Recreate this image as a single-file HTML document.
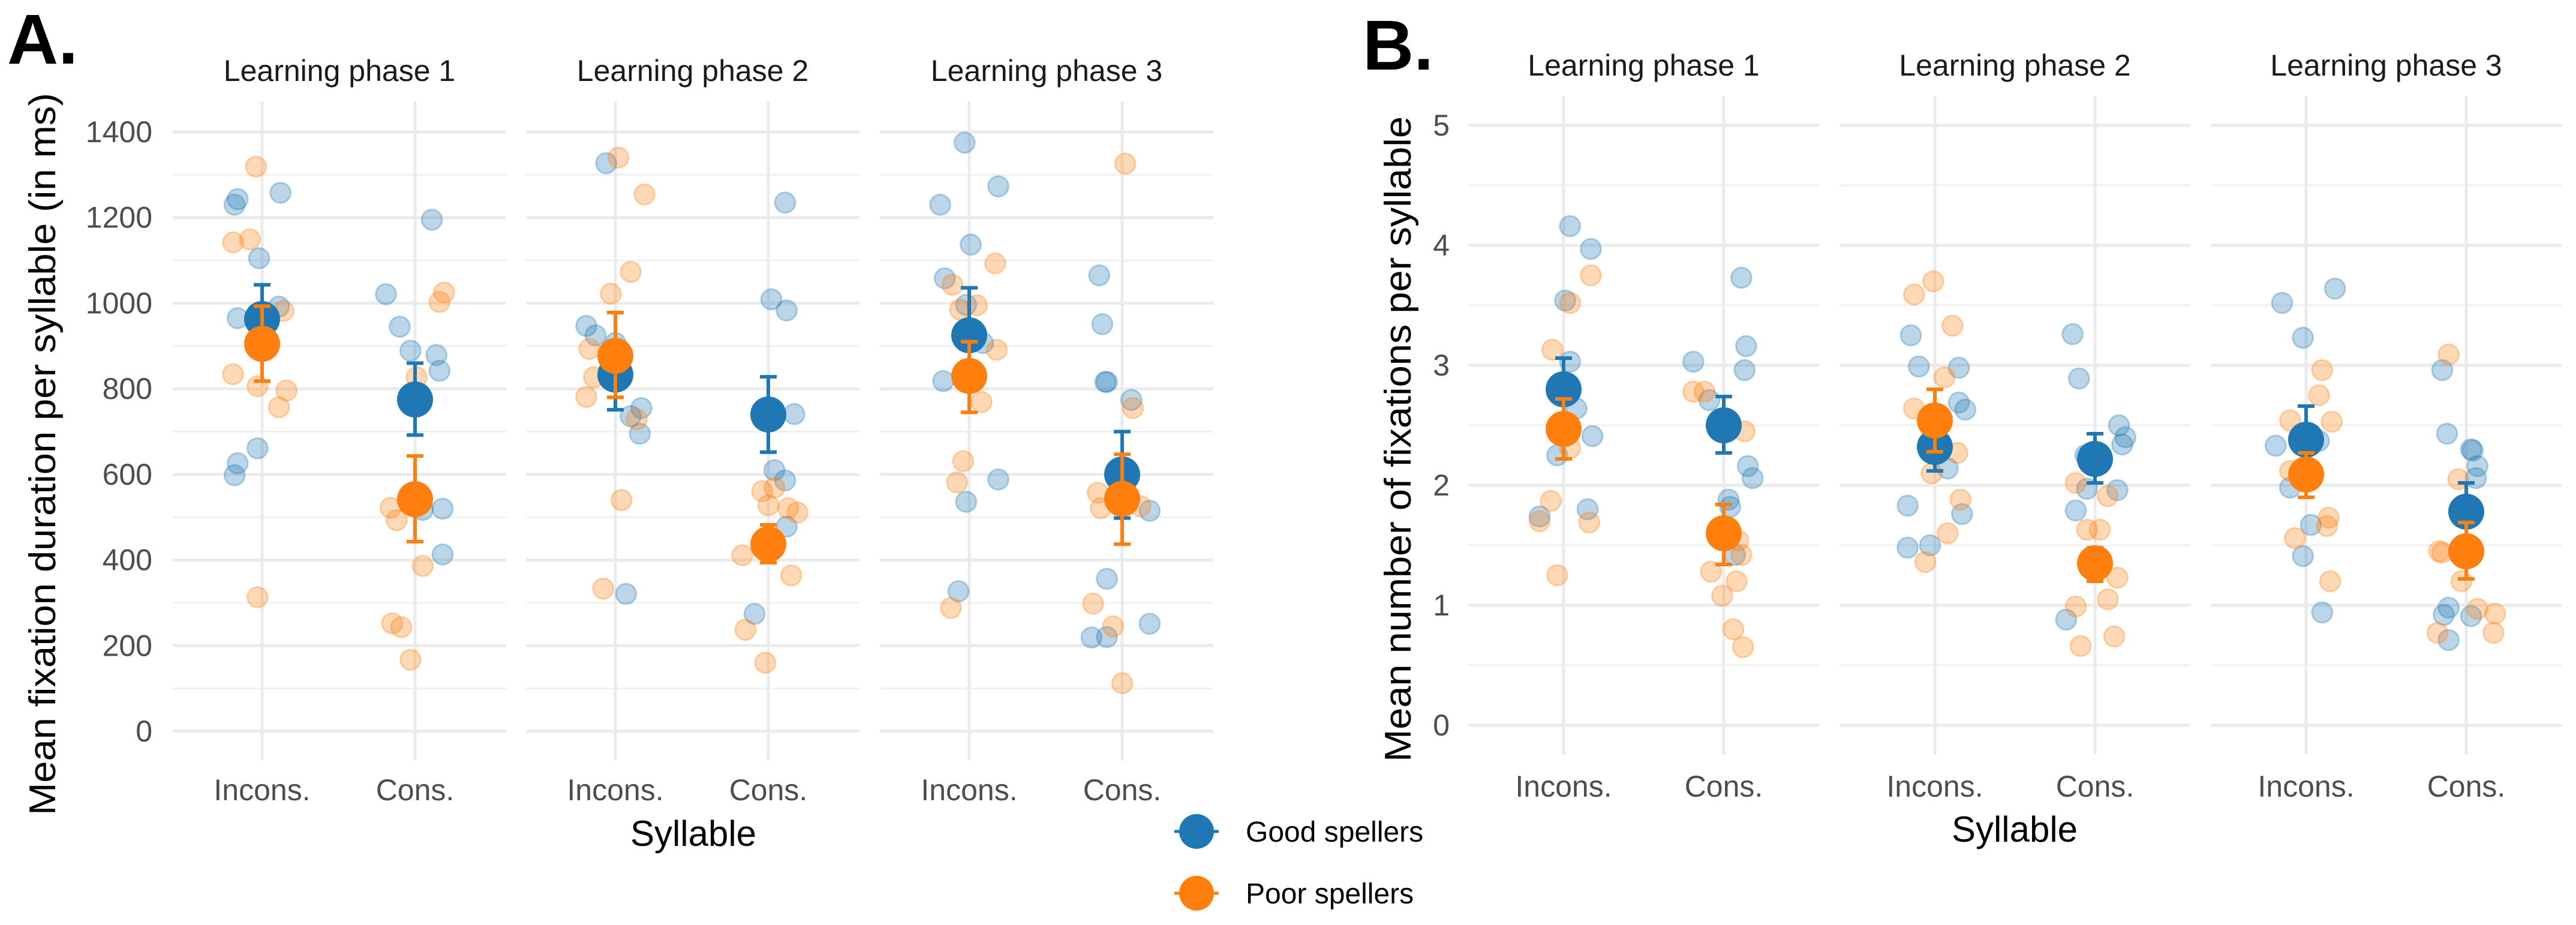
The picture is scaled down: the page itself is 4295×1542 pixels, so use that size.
<!DOCTYPE html>
<html><head><meta charset="utf-8"><style>
html,body{margin:0;padding:0;background:#fff;}
svg{display:block;font-family:"Liberation Sans",sans-serif;}
</style></head><body>
<svg id="chart" width="4295" height="1542" viewBox="0 0 4295 1542" xmlns="http://www.w3.org/2000/svg">
<text x="12" y="106" font-size="118" font-weight="bold">A.</text>
<text x="2272" y="116" font-size="118" font-weight="bold">B.</text>
<text transform="translate(92,757) rotate(-90)" text-anchor="middle" font-size="62" textLength="1204" lengthAdjust="spacingAndGlyphs">Mean fixation duration per syllable (in ms)</text>
<text transform="translate(2352,732) rotate(-90)" text-anchor="middle" font-size="62" textLength="1076" lengthAdjust="spacingAndGlyphs">Mean number of fixations per syllable</text>
<text x="1156" y="1410" text-anchor="middle" font-size="60">Syllable</text>
<text x="3359" y="1403" text-anchor="middle" font-size="60">Syllable</text>
<g>
<line x1="1958" y1="1386" x2="2032" y2="1386" stroke="#1f77b4" stroke-width="5"/>
<circle cx="1995" cy="1386" r="29" fill="#1f77b4"/>
<text x="2077" y="1403" font-size="48">Good spellers</text>
<line x1="1958" y1="1489" x2="2032" y2="1489" stroke="#ff7f0e" stroke-width="5"/>
<circle cx="1995" cy="1489" r="29" fill="#ff7f0e"/>
<text x="2077" y="1506" font-size="48">Poor spellers</text>
</g>
</svg>
<script>
// ---------- DATA ----------
const phases = ["Learning phase 1","Learning phase 2","Learning phase 3"];
const categories = ["Incons.","Cons."];
const ticksA = [0,200,400,600,800,1000,1200,1400];
const ticksB = [0,1,2,3,4,5];
// Panel A individual points: [phase][category] values and jitter (category units)
const aGoodVals = [
 [[1230,1243,1258,1105,965,992,661,626,598],[1195,1021,945,889,879,842,517,520,413]],
 [[1327,947,925,907,755,736,695,321],[1235,1009,983,741,610,586,478,274]],
 [[1375,1273,1230,1137,1058,996,907,818,588,536,327],[1065,951,816,816,774,515,356,219,220,251]]];
const aGoodJit = [
 [[-.18,-.16,.12,-.02,-.16,.11,-.03,-.16,-.18],[.11,-.19,-.10,-.03,.14,.16,.05,.18,.18]],
 [[-.06,-.19,-.13,0,.17,.10,.16,.07],[.11,.02,.12,.17,.04,.11,.12,-.09]],
 [[-.03,.19,-.19,.01,-.16,-.02,.09,-.17,.19,-.02,-.07],[-.15,-.13,-.11,-.10,.06,.18,-.10,-.20,-.10,.18]]];
const aPoorVals = [
 [[1319,1142,1149,982,834,806,796,757,313],[1025,1003,827,522,493,386,252,243,167]],
 [[1340,1254,1073,1022,893,827,781,729,540,333],[561,528,569,521,511,411,364,237,160]],
 [[1093,1043,985,995,891,769,631,581,288],[1326,755,557,521,526,298,245,112]]];
const aPoorJit = [
 [[-.04,-.19,-.08,.14,-.19,-.03,.16,.11,-.03],[.19,.16,.01,-.16,-.12,.05,-.15,-.09,-.03]],
 [[.02,.19,.10,-.03,-.17,-.14,-.19,.14,.04,-.08],[-.04,0,.04,.13,.19,-.17,.15,-.15,-.02]],
 [[.17,-.11,-.06,.05,.18,.08,-.04,-.08,-.12],[.02,.07,-.16,-.14,.12,-.19,-.06,0]]];
const aGoodMean = [[963,775],[833,740],[925,600]];
const aGoodLo = [[882,692],[751,652],[816,498]];
const aGoodHi = [[1043,860],[910,828],[1036,700]];
const aPoorMean = [[905,542],[877,437],[830,543]];
const aPoorLo = [[818,443],[780,394],[745,437]];
const aPoorHi = [[993,643],[978,482],[910,647]];
// Panel B
const bGoodVals = [
 [[4.16,3.97,3.54,3.03,2.64,2.41,2.25,1.74,1.80],[3.73,3.16,2.96,3.03,2.71,2.16,2.06,1.88,1.82,1.42]],
 [[3.25,2.99,2.98,2.69,2.63,2.14,1.83,1.76,1.48,1.50],[3.26,2.89,2.50,2.40,2.34,2.25,1.97,1.96,1.79,0.88]],
 [[3.64,3.52,3.23,2.37,2.33,1.98,1.67,1.41,0.94],[2.96,2.43,2.30,2.29,2.16,2.06,0.98,0.92,0.91,0.71]]];
const bGoodJit = [
 [[.04,.17,.01,.04,.08,.18,-.04,-.15,.15],[.11,.14,.13,-.19,-.09,.15,.18,.03,.04,.07]],
 [[-.15,-.10,.15,.15,.19,.08,-.17,.17,-.17,-.03],[-.14,-.10,.15,.19,.17,-.06,-.05,.14,-.12,-.18]],
 [[.18,-.15,-.02,.08,-.19,-.10,.03,-.02,.10],[-.15,-.12,.03,.04,.07,.06,-.11,-.14,.03,-.11]]];
const bPoorVals = [
 [[3.75,3.52,3.13,2.31,1.87,1.70,1.69,1.25],[2.78,2.78,2.45,1.54,1.42,1.28,1.20,1.08,0.80,0.65]],
 [[3.70,3.59,3.33,2.90,2.64,2.27,2.10,1.88,1.60,1.36],[2.02,1.91,1.63,1.63,1.23,1.05,0.99,0.74,0.66]],
 [[2.96,2.75,2.54,2.53,2.12,1.73,1.66,1.56,1.20],[3.09,2.05,1.45,1.44,1.20,0.97,0.93,0.77,0.77]]];
const bPoorJit = [
 [[.17,.04,-.07,.04,-.08,-.15,.16,-.04],[-.19,-.12,.13,.09,.11,-.08,.08,-.01,.06,.12]],
 [[-.01,-.13,.11,.06,-.13,.14,-.02,.16,.08,-.06],[-.12,.08,-.05,.03,.14,.08,-.12,.12,-.09]],
 [[.10,.08,-.10,.16,-.10,.14,.13,-.07,.15],[-.11,-.05,-.17,-.15,-.03,.07,.18,.17,-.18]]];
const bGoodMean = [[2.80,2.50],[2.32,2.22],[2.38,1.78]];
const bGoodLo = [[2.53,2.27],[2.12,2.02],[2.10,1.53]];
const bGoodHi = [[3.06,2.74],[2.52,2.43],[2.66,2.02]];
const bPoorMean = [[2.47,1.60],[2.54,1.35],[2.09,1.45]];
const bPoorLo = [[2.22,1.34],[2.28,1.20],[1.90,1.22]];
const bPoorHi = [[2.72,1.84],[2.80,1.48],[2.27,1.69]];

// ---------- DRAW ----------
const NS = "http://www.w3.org/2000/svg";
const svg = document.getElementById("chart");
const BLUE = "#1f77b4", ORANGE = "#ff7f0e";
function mk(tag, attrs, parent){
  const e = document.createElementNS(NS, tag);
  for (const k in attrs) e.setAttribute(k, attrs[k]);
  (parent||svg).appendChild(e);
  return e;
}
function drawPanel(cfg){
  const yScale = v => cfg.y0 - (v - cfg.vmin) * cfg.k;
  const g = mk("g", {});
  
  
  cfg.lefts.forEach((left, p) => {
    const xScale = (c, j) => left + cfg.cat0 + (c + j) * cfg.catStep;
    // minor grid
    for (let i = 0; i < cfg.ticks.length - 1; i++) {
      const mid = (cfg.ticks[i] + cfg.ticks[i+1]) / 2;
      const l = mk("line", {x1:left, x2:left+cfg.w, y1:yScale(mid), y2:yScale(mid), stroke:"#f0f0f0", "stroke-width":3}, g);
      
      
    }
    cfg.ticks.forEach(t => {
      const l = mk("line", {x1:left, x2:left+cfg.w, y1:yScale(t), y2:yScale(t), stroke:"#ebebeb", "stroke-width":5}, g);
      
      
    });
    categories.forEach((c, ci) => {
      const x = xScale(ci, 0);
      const l = mk("line", {x1:x, x2:x, y1:cfg.gTop, y2:cfg.gBot, stroke:"#ebebeb", "stroke-width":5}, g);
      
      
      const t = mk("text", {x:x, y:cfg.xLabY, "text-anchor":"middle", "font-size":50, fill:"#4d4d4d"}, g);
      t.textContent = c;
      
      
    });
    const st = mk("text", {x:left + cfg.w/2, y:cfg.stripY, "text-anchor":"middle", "font-size":50, fill:"#1a1a1a"}, g);
    st.textContent = phases[p];
    
    
    // raw points
    [[cfg.gv, cfg.gj, BLUE], [cfg.pv, cfg.pj, ORANGE]].forEach(([vals, jit, col]) => {
      vals[p].forEach((arr, ci) => arr.forEach((v, i) => {
        const c = mk("circle", {cx:xScale(ci, jit[p][ci][i]), cy:yScale(v), r:17, fill:col, "fill-opacity":0.3, stroke:col, "stroke-opacity":0.3, "stroke-width":3}, g);
        
        
      }));
    });
    // means + error bars
    [[cfg.gm, cfg.glo, cfg.ghi, BLUE], [cfg.pm, cfg.plo, cfg.phi, ORANGE]].forEach(([m, lo, hi, col]) => {
      categories.forEach((c, ci) => {
        const x = xScale(ci, 0);
        const e = mk("path", {d:`M${x-14},${yScale(hi[p][ci])}H${x+14}M${x},${yScale(hi[p][ci])}V${yScale(lo[p][ci])}M${x-14},${yScale(lo[p][ci])}H${x+14}`, stroke:col, "stroke-width":6, fill:"none"}, g);
        
        
        const d = mk("circle", {cx:x, cy:yScale(m[p][ci]), r:30, fill:col}, g);
        
        
      });
    });
  });
  cfg.ticks.forEach(t => {
    const tl = mk("text", {x:cfg.tickX, y:yScale(t)+17, "text-anchor":"end", "font-size":50, fill:"#4d4d4d"}, g);
    tl.textContent = t;
    
    
  });
}
drawPanel({name:"panel-a", lefts:[288,877,1467], w:556, cat0:149, catStep:255,
  y0:1219, vmin:0, k:(1219-220)/1400, ticks:ticksA, gTop:169, gBot:1268,
  xLabY:1334, stripY:135, tickX:254,
  gv:aGoodVals, gj:aGoodJit, pv:aPoorVals, pj:aPoorJit,
  gm:aGoodMean, glo:aGoodLo, ghi:aGoodHi, pm:aPoorMean, plo:aPoorLo, phi:aPoorHi});
drawPanel({name:"panel-b", lefts:[2448,3067,3686], w:585, cat0:159, catStep:267,
  y0:1209, vmin:0, k:200, ticks:ticksB, gTop:160, gBot:1258,
  xLabY:1328, stripY:126, tickX:2417,
  gv:bGoodVals, gj:bGoodJit, pv:bPoorVals, pj:bPoorJit,
  gm:bGoodMean, glo:bGoodLo, ghi:bGoodHi, pm:bPoorMean, plo:bPoorLo, phi:bPoorHi});
</script>
</body></html>
